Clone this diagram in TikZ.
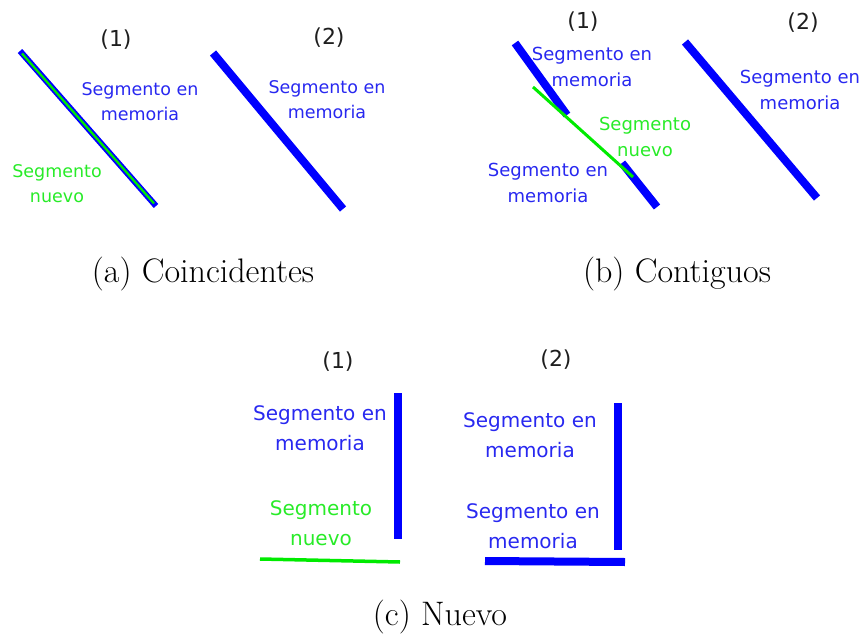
\documentclass[tikz,border=0pt]{standalone}
\usepackage{fontspec}
\newfontfamily\dejavu{DejaVu Sans}
\definecolor{segblue}{RGB}{0,0,255}
\definecolor{txtblue}{RGB}{40,40,240}
\definecolor{seggreen}{RGB}{0,235,0}
\definecolor{txtgreen}{RGB}{40,235,40}
\definecolor{numgray}{RGB}{30,30,30}
\tikzset{
  lblA/.style={font=\dejavu\fontsize{17.5}{25}\selectfont, align=center, inner sep=0pt},
  lblB/.style={font=\dejavu\fontsize{18}{26}\selectfont, align=center, inner sep=0pt},
  lblC/.style={font=\dejavu\fontsize{20}{30}\selectfont, align=center, inner sep=0pt},
  num/.style={font=\dejavu\fontsize{22}{26}\selectfont, text=numgray, inner sep=0pt},
  captxt/.style={font=\fontsize{34}{40}\selectfont, anchor=base, inner sep=0pt},
  memseg/.style={draw=segblue, line width=8pt},
  newseg/.style={draw=seggreen, line width=3pt},
}
\begin{document}
\begin{tikzpicture}[x=1pt,y=-1pt]
\useasboundingbox (0,0) rectangle (864,639);
% ---------- (a) ----------
\coordinate (a1s) at (20,51);  \coordinate (a1e) at (156,206);
\coordinate (a1gs) at (22,53.5); \coordinate (a1ge) at (154,203.5);
\draw[draw=segblue, line width=6pt] (a1s) -- (a1e);
\draw[draw=seggreen, line width=2.3pt] (a1gs) -- (a1ge);
\coordinate (a2s) at (213,53); \coordinate (a2e) at (343,209);
\draw[memseg] (a2s) -- (a2e);
\node[num] (na1) at (116,40) {(1)};
\node[num] (na2) at (329,38) {(2)};
\node[lblA, text=txtblue] (ta1) at (140,102) {Segmento en\\memoria};
\node[lblA, text=txtgreen] (ta1g) at (57,184) {Segmento\\nuevo};
\node[lblA, text=txtblue] (ta2) at (327,100) {Segmento en\\memoria};
\node[captxt] (capa) at (203,282) {(a) Coincidentes};
% ---------- (b) ----------
\coordinate (b1us) at (515,43); \coordinate (b1ue) at (567,115);
\coordinate (b1ls) at (622,163); \coordinate (b1le) at (657,207);
\coordinate (b1gs) at (533,87); \coordinate (b1ge) at (633,177);
\draw[memseg] (b1us) -- (b1ue);
\draw[memseg] (b1ls) -- (b1le);
\draw[newseg] (b1gs) -- (b1ge);
\coordinate (b2s) at (685,42); \coordinate (b2e) at (817,198);
\draw[memseg] (b2s) -- (b2e);
\node[num] (nb1) at (583,22) {(1)};
\node[num] (nb2) at (803,23) {(2)};
\node[lblB, text=txtblue] (tb1u) at (592,67) {Segmento en\\memoria};
\node[lblB, text=txtgreen] (tb1g) at (645,137) {Segmento\\nuevo};
\node[lblB, text=txtblue] (tb1l) at (548,183) {Segmento en\\memoria};
\node[lblB, text=txtblue] (tb2) at (800,90) {Segmento en\\memoria};
\node[captxt] (capb) at (677,282) {(b) Contiguos};
% ---------- (c) ----------
\coordinate (c1vs) at (398,393); \coordinate (c1ve) at (398,539);
\coordinate (c1gs) at (260,559); \coordinate (c1ge) at (400,562);
\draw[memseg] (c1vs) -- (c1ve);
\draw[draw=seggreen, line width=3.5pt] (c1gs) -- (c1ge);
\coordinate (c2vs) at (618,403); \coordinate (c2ve) at (618,550);
\coordinate (c2hs) at (485,561); \coordinate (c2he) at (625,562);
\draw[memseg] (c2vs) -- (c2ve);
\draw[memseg] (c2hs) -- (c2he);
\node[num] (nc1) at (338,362) {(1)};
\node[num] (nc2) at (556,360) {(2)};
\node[lblC, text=txtblue] (tc1) at (320,428) {Segmento en\\memoria};
\node[lblC, text=txtgreen] (tc1g) at (321,523) {Segmento\\nuevo};
\node[lblC, text=txtblue] (tc2u) at (530,435) {Segmento en\\memoria};
\node[lblC, text=txtblue] (tc2l) at (533,526) {Segmento en\\memoria};
\node[captxt] (capc) at (440,625) {(c) Nuevo};
\end{tikzpicture}
\end{document}
